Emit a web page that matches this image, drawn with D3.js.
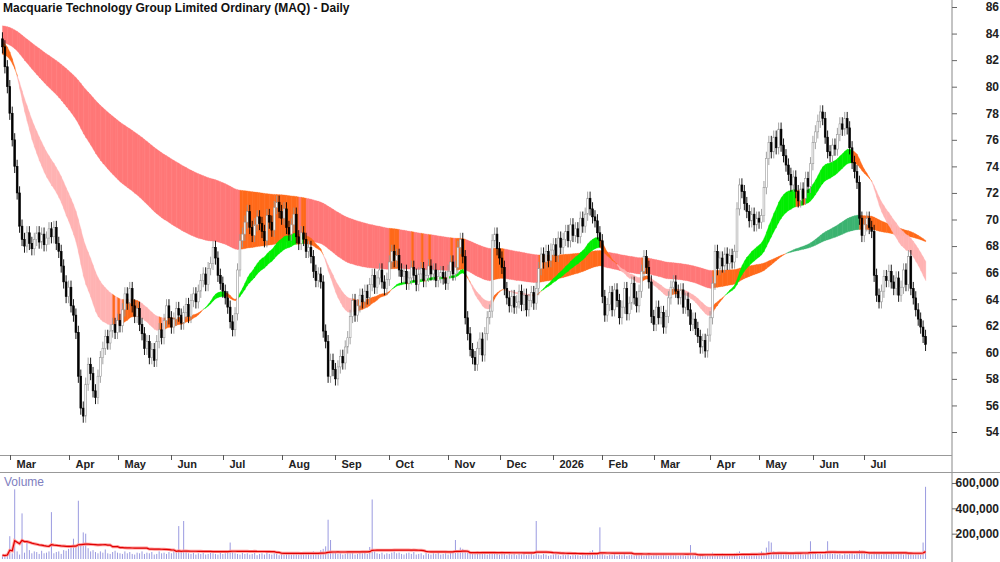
<!DOCTYPE html>
<html lang="en">
<head>
<meta charset="utf-8">
<title>MAQ - Daily</title>
<script src="https://cdn.jsdelivr.net/npm/d3@7"></script>
<style>
  body { margin: 0; background: #fff; }
  text { font-family: "Liberation Sans", Arial, sans-serif; }
</style>
</head>
<body>
<script>
// daily closes
var closes = [
 83,81.5,80,78,76,74,72,69.5,68.5,68,
 69,68.2,67.8,68.5,69,68.3,68.9,68.1,68.6,69.3,
 68.7,69.4,68.2,67.6,66.5,65.3,64.2,64.9,63.5,62.8,
 61.5,58.2,55.8,55.2,57.6,59.1,58.4,57.1,56.6,58.2,
 59.6,60.3,61.2,60.7,61.6,62.1,61.5,62.4,62.0,63.2,
 64.4,63.7,64.8,63.5,62.7,63.3,62.1,61.4,60.3,60.8,
 59.6,60.2,59.4,60.8,61.7,61.1,62.4,63.5,62.6,61.9,
 62.5,63.3,62.8,62.2,63.0,63.6,62.7,63.9,64.4,63.8,
 64.6,65.4,65.9,65.1,66.3,66.7,67.9,67.1,65.8,65.2,
 64.6,64.1,63.4,62.3,61.7,62.9,66.2,68.4,68.9,69.8,
 70.6,69.4,68.8,69.6,70.2,69.7,69.1,68.4,70.3,69.8,
 69.2,70.9,71.3,70.6,70.1,70.8,69.4,68.9,69.6,70.4,
 68.7,68.2,69.0,68.5,67.6,67.9,67.2,66.1,65.4,65.9,
 65.3,61.6,60.8,58.2,59.4,58.7,58.0,58.9,59.7,59.2,
 60.4,61.1,62.7,63.9,62.8,63.5,64.3,63.8,64.6,64.1,
 65.1,65.8,64.9,65.6,66.2,65.3,64.8,65.5,66.8,67.6,
 66.9,67.3,66.2,65.7,66.1,65.2,65.6,66.4,65.8,65.1,
 65.9,66.3,65.4,65.8,66.5,65.9,66.2,65.4,65.7,66.0,
 65.6,65.2,66.1,66.8,65.9,66.4,67.9,68.5,67.2,62.6,
 61.4,60.2,59.6,59.1,60.3,61.0,59.8,61.4,62.6,63.1,
 68.4,68.9,67.8,67.1,66.4,64.8,64.1,63.5,64.2,63.4,
 63.8,64.6,63.6,64.3,63.2,63.9,64.5,63.7,64.8,66.3,
 67.4,66.8,67.6,66.9,67.7,68.1,67.3,68.6,67.9,68.5,
 69.1,68.4,69.6,68.8,69.3,68.7,70.1,69.5,70.4,71.6,
 70.8,70.2,69.9,69.0,68.4,64.2,62.8,63.6,64.5,63.2,
 64.7,63.9,62.6,63.4,64.8,62.9,63.7,65.2,64.1,63.5,
 64.6,66.1,67.2,66.4,65.3,62.7,62.1,63.4,62.6,63.0,
 61.9,62.7,64.1,64.9,65.3,64.6,64.1,64.7,63.4,64.0,
 63.2,62.1,62.5,61.8,61.2,60.4,60.9,60.1,61.3,62.6,
 65.2,67.6,66.3,67.1,66.5,67.4,66.7,67.3,66.8,67.6,
 70.8,72.6,72.1,71.2,70.6,69.9,70.4,69.6,70.1,69.8,
 70.3,72.4,74.6,75.8,75.1,76.2,75.4,76.8,75.6,74.8,
 74.1,73.4,72.6,73.2,72.1,71.4,72.3,71.6,73.1,72.5,
 74.2,75.8,76.6,77.4,78.1,77.6,76.2,75.1,74.8,75.6,
 75.3,76.4,77.2,76.8,77.6,76.9,75.4,74.3,73.6,72.8,
 70.1,68.8,69.6,70.1,69.4,69.1,65.8,64.3,63.8,64.6,
 65.7,65.4,66.1,65.3,64.8,65.6,64.3,64.9,66.2,65.1,
 67.2,64.8,64.1,63.2,62.5,61.9,61.2,60.6
];
var firstOpen = 83.6;
var wick = 0.5;

// volume in thousands
var volumes = [
 30,25,40,180,45,550,60,35,360,50,140,70,45,60,55,40,65,45,50,60,
 370,45,55,60,40,70,65,80,100,160,90,460,120,210,200,85,60,70,55,45,
 60,50,75,45,40,55,65,50,45,40,60,45,55,40,35,50,45,60,40,50,
 45,55,35,40,60,45,50,40,55,45,70,50,260,60,300,55,45,40,50,35,
 45,40,55,35,40,50,45,40,35,55,40,45,50,130,60,45,40,35,50,40,
 45,35,40,55,30,40,45,35,50,40,35,45,40,30,50,35,40,45,35,40,
 45,35,50,40,55,45,35,60,50,45,70,80,100,310,150,60,50,40,45,35,
 40,55,45,50,35,40,60,45,50,40,95,470,70,45,40,50,35,45,40,50,
 60,45,50,40,35,45,50,40,55,35,40,45,30,50,40,35,45,40,50,35,
 40,45,35,50,60,150,70,90,80,60,55,45,50,40,60,45,55,40,35,45,
 60,45,40,35,50,40,30,45,35,40,30,45,35,40,30,35,40,30,300,35,
 30,40,35,25,30,35,40,30,25,35,30,40,25,30,35,30,25,40,30,35,
 60,70,35,40,250,45,30,25,35,30,40,25,35,30,45,25,30,35,25,40,
 30,35,25,30,40,25,30,35,25,30,40,30,25,35,30,40,25,30,35,25,
 30,110,35,25,30,25,35,30,40,25,50,40,35,30,45,25,40,35,30,45,
 50,60,45,35,40,30,45,35,40,50,60,45,90,140,130,60,45,50,40,35,
 45,35,40,50,35,40,45,35,50,40,140,60,45,50,40,35,45,140,50,40,
 45,35,40,30,45,35,40,50,35,45,70,60,55,40,45,35,60,45,40,35,
 40,45,35,50,40,35,45,40,35,50,45,40,35,45,40,35,130,570
];

var monthIdx = [3,27,47,69,90,114,136,158,182,203,225,245,266,289,309,331,352];
var monthLabels = ["Mar","Apr","May","Jun","Jul","Aug","Sep","Oct","Nov","Dec","2026","Feb","Mar","Apr","May","Jun","Jul"];
var priceTicks = [54,56,58,60,62,64,66,68,70,72,74,76,78,80,82,84,86];
var volTicks = [200000,400000,600000];

// ribbon settings: EMA periods and starting values
var fastPeriods = [25, 38], fastSeed = [83.4, 82.4];
var slowPeriods = [120, 210], slowSeed = [83.3, 84.6];
var volMaLen = 40;

var W = 1000, H = 562, plotR = 952;
var svg = d3.select("body").append("svg").attr("width", W).attr("height", H);

var x = d3.scaleLinear().domain([-1, closes.length]).range([0, 928]);
var y = d3.scaleLinear().domain([54, 86]).range([432, 7]);
var yv = d3.scaleLinear().domain([0, 600000]).range([559, 483]);

function ema(period, seed) {
  var k = 2 / (period + 1), v = seed, out = [];
  closes.forEach(function(c) { v = v + k * (c - v); out.push(v); });
  return out;
}

function ribbon(periods, seeds, cols) {
  var a = ema(periods[0], seeds[0]), b = ema(periods[1], seeds[1]);
  var segs = [];
  for (var i = 0; i < closes.length - 1; i++) {
    var up = i > 0 ? a[i] >= a[i - 1] : false;
    var col = (a[i] > b[i] && up) ? cols.green : (a[i] < b[i] && !up) ? cols.red : cols.orange;
    segs.push({ i: i, a0: a[i], a1: a[i + 1], b0: b[i], b1: b[i + 1], col: col });
  }
  svg.append("g").selectAll("path").data(segs).enter().append("path")
    .attr("d", function(d) {
      return "M" + x(d.i) + "," + y(d.a0) + "L" + (x(d.i + 1) + 0.3) + "," + y(d.a1) +
             "L" + (x(d.i + 1) + 0.3) + "," + y(d.b1) + "L" + x(d.i) + "," + y(d.b0) + "Z";
    })
    .attr("fill", function(d) { return d.col; })
    .attr("stroke", function(d) { return d.col; })
    .attr("stroke-width", 0.3);
}

ribbon(slowPeriods, slowSeed, { green: "#3cb371", red: "#ff7878", orange: "#ff6a1a" });
ribbon(fastPeriods, fastSeed, { green: "#00ee00", red: "#ffb3b3", orange: "#ff6a1a" });

// candles
var bars = closes.map(function(c, i) {
  var o = i === 0 ? firstOpen : closes[i - 1];
  return { i: i, o: o, c: c, h: Math.max(o, c) + wick, l: Math.min(o, c) - wick };
});
var cg = svg.append("g");
cg.selectAll("line").data(bars).enter().append("line")
  .attr("x1", function(d) { return x(d.i); }).attr("x2", function(d) { return x(d.i); })
  .attr("y1", function(d) { return y(d.h); }).attr("y2", function(d) { return y(d.l); })
  .attr("stroke", function(d) { return d.c >= d.o ? "#999" : "#000"; })
  .attr("stroke-width", 0.9);
cg.selectAll("rect").data(bars).enter().append("rect")
  .attr("x", function(d) { return x(d.i) - 0.9; })
  .attr("width", 1.8)
  .attr("y", function(d) { return y(Math.max(d.o, d.c)); })
  .attr("height", function(d) { return Math.max(0.8, Math.abs(y(d.o) - y(d.c))); })
  .attr("fill", function(d) { return d.c >= d.o ? "#fff" : "#000"; })
  .attr("stroke", function(d) { return d.c >= d.o ? "#999" : "#000"; })
  .attr("stroke-width", 0.6);

// title
svg.append("text").attr("x", 3).attr("y", 12).attr("font-size", 12).attr("font-weight", "bold")
  .attr("fill", "#111").text("Macquarie Technology Group Limited Ordinary (MAQ) - Daily");

// right price axis
svg.append("line").attr("x1", plotR).attr("x2", plotR).attr("y1", 0).attr("y2", H).attr("stroke", "#888");
var pa = svg.append("g").attr("transform", "translate(" + plotR + ",0)")
  .call(d3.axisRight(y).tickValues(priceTicks).tickSize(5).tickFormat(d3.format("d")));
pa.select(".domain").remove();
pa.selectAll("line").attr("stroke", "#666");
pa.selectAll("text").attr("x", 47).attr("text-anchor", "end").attr("font-size", 12)
  .attr("font-weight", "bold").attr("fill", "#222").style("font-family", "Liberation Sans, Arial");

// month strip
svg.append("line").attr("x1", 0).attr("x2", plotR).attr("y1", 455.5).attr("y2", 455.5).attr("stroke", "#999");
svg.append("line").attr("x1", 0).attr("x2", W).attr("y1", 472.5).attr("y2", 472.5).attr("stroke", "#999");
var mg = svg.append("g").selectAll("g").data(monthIdx).enter().append("g")
  .attr("transform", function(d) { return "translate(" + Math.round(x(d)) + ".5,0)"; });
mg.append("line").attr("y1", 455).attr("y2", 460).attr("stroke", "#555");
mg.append("text").attr("x", 6).attr("y", 468).attr("font-size", 11).attr("font-weight", "bold")
  .attr("fill", "#222").text(function(d, i) { return monthLabels[i]; });

// volume
svg.append("g").selectAll("line").data(volumes).enter().append("line")
  .attr("x1", function(d, i) { return x(i); }).attr("x2", function(d, i) { return x(i); })
  .attr("y1", yv(0)).attr("y2", function(d) { return yv(d * 1000); })
  .attr("stroke", "#8f8fdc").attr("stroke-width", 0.9);
var volMa = volumes.map(function(v, i) {
  var s = volumes.slice(Math.max(0, i - volMaLen + 1), i + 1);
  return d3.mean(s) * 1000;
});
var vline = d3.line().x(function(d, i) { return x(i); }).y(function(d) { return yv(d); });
svg.append("path").datum(volMa).attr("d", vline).attr("fill", "none").attr("stroke", "#ff9a9a").attr("stroke-width", 3);
svg.append("path").datum(volMa).attr("d", vline).attr("fill", "none").attr("stroke", "#e00000").attr("stroke-width", 1.2);
svg.append("text").attr("x", 4).attr("y", 486).attr("font-size", 12).attr("fill", "#8080c0").text("Volume");
var va = svg.append("g").attr("transform", "translate(" + plotR + ",0)")
  .call(d3.axisRight(yv).tickValues(volTicks).tickSize(5).tickFormat(d3.format(",")));
va.select(".domain").remove();
va.selectAll("line").attr("stroke", "#666");
va.selectAll("text").attr("x", 47).attr("text-anchor", "end").attr("font-size", 12)
  .attr("font-weight", "bold").attr("fill", "#222").style("font-family", "Liberation Sans, Arial");
</script>
</body>
</html>
